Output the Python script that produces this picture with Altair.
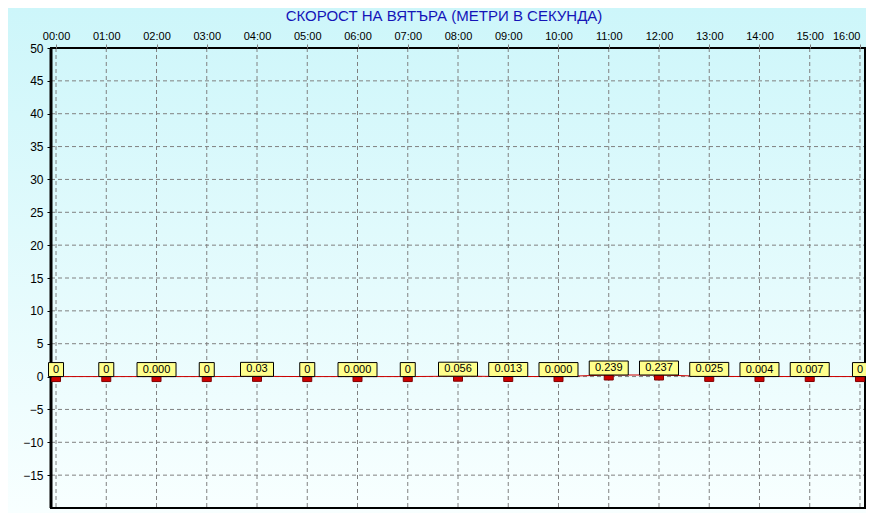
import altair as alt
import pandas as pd

# ---- data ----
hours = list(range(17))
values = [0, 0, 0.000, 0, 0.03, 0, 0.000, 0, 0.056, 0.013, 0.000, 0.239, 0.237, 0.025, 0.004, 0.007, 0]
labels = ["0", "0", "0.000", "0", "0.03", "0", "0.000", "0", "0.056", "0.013",
          "0.000", "0.239", "0.237", "0.025", "0.004", "0.007", "0"]
y_ticks = [-15, -10, -5, 0, 5, 10, 15, 20, 25, 30, 35, 40, 45, 50]
title_text = "СКОРОСТ НА ВЯТЪРА (МЕТРИ В СЕКУНДА)"

W, H = 814, 460
PAD_L, PAD_T, PAD_R, PAD_B = 43, 40, 1, 5
FONT = "Liberation Sans"

df = pd.DataFrame({"hour": hours, "value": values, "label": labels})
df_x = pd.DataFrame({"hour": hours})
df_y = pd.DataFrame({"value": y_ticks})
df_one = pd.DataFrame({"a": [0]})

x_scale = alt.Scale(domain=[-0.1, 16.1], nice=False, zero=False, padding=0)
y_scale = alt.Scale(domain=[-20, 50], nice=False, zero=False, padding=0)

x_axis = alt.Axis(orient="top", values=hours, title=None, grid=False, domain=False,
                  labelExpr="(datum.value < 10 ? '0' : '') + datum.value + ':00'",
                  labelAlign={"condition": {"test": "datum.value >= 16", "value": "right"},
                              "value": "center"},
                  tickColor="#808080", tickSize=4, labelPadding=3,
                  labelFont=FONT, labelFontSize=11, labelColor="black",
                  labelFlush=False, labelOverlap=False, zindex=1)
y_axis = alt.Axis(values=y_ticks, title=None, grid=False, domain=False,
                  tickColor="black", tickSize=4, labelPadding=4,
                  labelFont=FONT, labelFontSize=12, labelColor="black",
                  labelOverlap=False, zindex=1)

x_enc = alt.X("hour:Q", scale=x_scale, axis=x_axis)
y_enc = alt.Y("value:Q", scale=y_scale, axis=y_axis)

bg = alt.Chart(df_one).mark_rect(
    fill=alt.Gradient(gradient="linear", x1=0, y1=0, x2=0, y2=1,
                      stops=[alt.GradientStop(offset=0, color="#cdf6fa"),
                             alt.GradientStop(offset=1, color="#f8ffff")]),
).encode(x=alt.value(-PAD_L), x2=alt.value(W + PAD_R), y=alt.value(-PAD_T), y2=alt.value(H + PAD_B))

vgrid = alt.Chart(df_x).mark_rule(color="#808080", strokeDash=[4, 3], strokeWidth=1).encode(
    x=x_enc, y=alt.value(0), y2=alt.value(H))

hgrid = alt.Chart(df_y).mark_rule(color="#808080", strokeDash=[4, 3], strokeWidth=1).encode(
    y=y_enc, x=alt.value(0), x2=alt.value(W))

frame = alt.Chart(df_one).mark_rect(filled=False, stroke="black", strokeWidth=2).encode(
    x=alt.value(0), x2=alt.value(W), y=alt.value(0), y2=alt.value(H))

left_axis_line = alt.Chart(df_one).mark_rule(color="black", strokeWidth=3).encode(
    x=alt.value(0), y=alt.value(0), y2=alt.value(H))

line = alt.Chart(df).mark_line(color="#cc0000", strokeWidth=1).encode(x=x_enc, y=y_enc)

markers = alt.Chart(df).transform_calculate(v2="datum.value").mark_bar(
    size=9, fill="#cc0000", stroke="#800000", strokeWidth=1, yOffset=0, y2Offset=5,
).encode(x=x_enc, y=y_enc, y2="v2:Q")

boxes = alt.Chart(df).transform_calculate(
    v2="datum.value", w="length(datum.label) * 6 + 9"
).mark_bar(
    fill="#ffff8c", stroke="black", strokeWidth=1, yOffset=-14, y2Offset=0,
).encode(x=x_enc, y=y_enc, y2="v2:Q", size=alt.Size("w:Q", scale=None, legend=None))

texts = alt.Chart(df).mark_text(
    font=FONT, fontSize=11, color="black", baseline="middle", align="center", dy=-7,
).encode(x=x_enc, y=y_enc, text="label:N")

chart = alt.layer(bg, vgrid, hgrid, frame, left_axis_line, line, markers, boxes, texts).properties(
    width=W, height=H,
    title=alt.TitleParams(title_text, font=FONT, fontSize=15, fontWeight="normal",
                          color="#1414b8", anchor="middle", frame="group", dx=-14,
                          offset=0, dy=31, baseline="bottom"),
    autosize=alt.AutoSizeParams(type="none"),
    padding={"left": PAD_L, "top": PAD_T, "right": PAD_R, "bottom": PAD_B},
).configure_view(stroke=None)

chart.save("out.html", embed_options={"renderer": "svg", "actions": False})
